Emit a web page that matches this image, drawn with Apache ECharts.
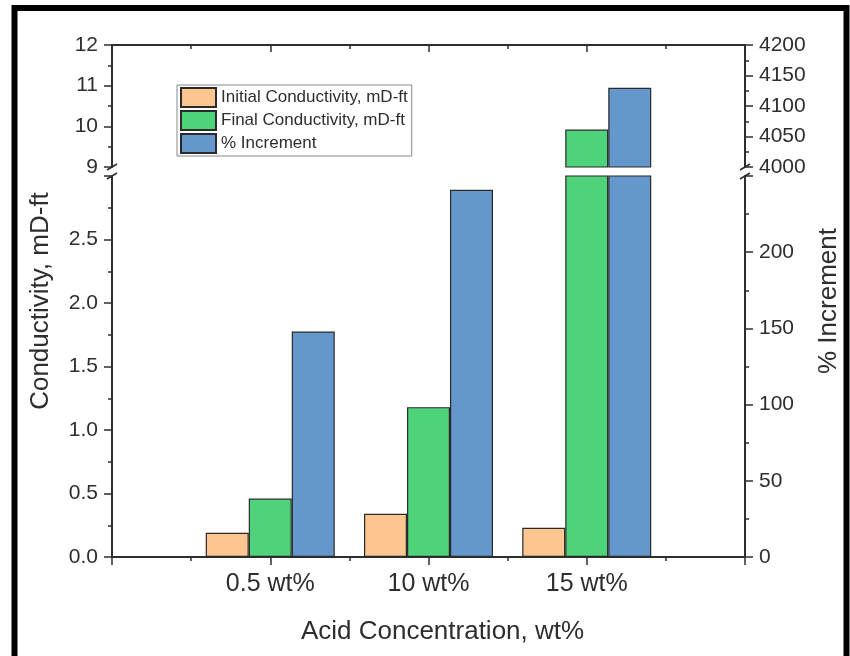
<!DOCTYPE html>
<html>
<head>
<meta charset="utf-8">
<script src="https://cdn.jsdelivr.net/npm/echarts@6/dist/echarts.min.js"></script>
<style>
  html, body { margin: 0; padding: 0; background: #fff; }
  #main { width: 850px; height: 656px; }
</style>
</head>
<body>
<div id="main"></div>
<script>
// values
const concentrations = ['0.5 wt%', '10 wt%', '15 wt%']
const initialCond = [0.19, 0.34, 0.23]
const finalCond = [0.46, 1.18, 9.92]
const increment = [148, 241, 4130]
const seriesNames = ['Initial Conductivity, mD-ft', 'Final Conductivity, mD-ft', '% Increment']
const colors = ['#FDC590', '#4ED37B', '#6498CD']

const font = 'Liberation Sans, Arial, sans-serif'
const ink = '#2e2e2e'

// categories sit at 1, 2, 3 on a 0..4 axis
function pairs (vals) {
  return vals.map(function (v, i) { return [i + 1, v] })
}

function plain (v) { return String(v) }

function xAx (grid, pos) {
  const top = pos === 'top'
  return {
    type: 'value', gridIndex: grid, position: pos, min: 0, max: 4, interval: 1,
    axisLine: { show: true, onZero: false, lineStyle: { color: ink, width: 2 } },
    axisTick: { show: true, inside: top, length: top ? 7 : 8, lineStyle: { color: ink, width: 1.5 } },
    minorTick: { show: true, splitNumber: 2, length: 4, lineStyle: { color: ink, width: 1.5 } },
    axisLabel: {
      show: !top, margin: 15, fontFamily: font, fontSize: 25, color: ink,
      formatter: function (v) { return concentrations[v - 1] || '' }
    },
    splitLine: { show: false }
  }
}

function yAx (grid, pos, min, max, step, fmt, hideMax) {
  return {
    type: 'value', gridIndex: grid, position: pos, min: min, max: max, interval: step,
    axisLine: { show: true, lineStyle: { color: ink, width: 2 } },
    axisTick: { show: true, length: 8, lineStyle: { color: ink, width: 1.5 } },
    minorTick: { show: true, splitNumber: 2, length: 4, lineStyle: { color: ink, width: 1.5 } },
    axisLabel: {
      margin: 14, fontFamily: font, fontSize: 21, color: ink,
      showMaxLabel: !hideMax, formatter: fmt
    },
    splitLine: { show: false }
  }
}

function nameAx (pos, name, gap) {
  return {
    type: 'value', gridIndex: 2, position: pos, min: 0, max: 1,
    axisLine: { show: false }, axisTick: { show: false }, axisLabel: { show: false },
    splitLine: { show: false },
    name: name, nameLocation: 'middle', nameRotate: 90, nameGap: gap,
    nameTextStyle: { fontFamily: font, fontSize: 26, color: ink }
  }
}

function bars (grid, k, vals, yIdx) {
  return {
    name: seriesNames[k], type: 'bar', xAxisIndex: grid, yAxisIndex: yIdx,
    data: pairs(vals), barWidth: 43, barGap: '0%', clip: true,
    itemStyle: { color: colors[k], borderColor: '#2a2a2a', borderWidth: 1.2 }
  }
}

const lowerX = xAx(0, 'bottom')
lowerX.name = 'Acid Concentration, wt%'
lowerX.nameLocation = 'middle'
lowerX.nameGap = 62
lowerX.nameTextStyle = { fontFamily: font, fontSize: 26, color: ink, padding: [0, 0, 0, 28] }

const option = {
  animation: false,
  backgroundColor: '#fff',
  grid: [
    { left: 112, right: 105, top: 176, height: 381 },
    { left: 112, right: 105, top: 45, height: 122 },
    { left: 112, right: 105, top: 45, height: 512 }
  ],
  legend: {
    data: seriesNames, orient: 'vertical', left: 177, top: 85,
    icon: 'rect', itemWidth: 35, itemHeight: 19, itemGap: 2,
    padding: [2, 4, 2, 3], borderColor: '#888', borderWidth: 1, backgroundColor: '#fff',
    textStyle: { fontFamily: font, fontSize: 17, color: ink, lineHeight: 19 }
  },
  xAxis: [
    lowerX,
    xAx(1, 'top'),
    { type: 'value', gridIndex: 2, show: false, min: 0, max: 4 }
  ],
  yAxis: [
    yAx(0, 'left', 0, 3, 0.5, function (v) { return v.toFixed(1) }, true),
    yAx(0, 'right', 0, 250, 50, plain, true),
    yAx(1, 'left', 9, 12, 1, plain, false),
    yAx(1, 'right', 4000, 4200, 50, plain, false),
    nameAx('left', 'Conductivity, mD-ft', 58),
    nameAx('right', '% Increment', 72)
  ],
  series: [
    bars(0, 0, initialCond, 0), bars(0, 1, finalCond, 0), bars(0, 2, increment, 1),
    bars(1, 0, initialCond, 2), bars(1, 1, finalCond, 2), bars(1, 2, increment, 3)
  ]
}

const chart = echarts.init(document.getElementById('main'))
chart.setOption(option)

// frame around the figure and the little break marks on both y axes
const xl = chart.convertToPixel({ xAxisIndex: 0 }, 0)
const xr = chart.convertToPixel({ xAxisIndex: 0 }, 4)
const yLo = chart.convertToPixel({ yAxisIndex: 0 }, 3)
const yHi = chart.convertToPixel({ yAxisIndex: 2 }, 9)
const marks = []
;[xl, xr].forEach(function (x) {
  [yLo, yHi].forEach(function (y) {
    marks.push({
      type: 'line', z: 10,
      shape: { x1: x - 5, y1: y + 3, x2: x + 5, y2: y - 3 },
      style: { stroke: ink, lineWidth: 1.5 }
    })
  })
})
marks.push({
  type: 'rect', z: 20,
  shape: { x: 14.5, y: 8, width: 832, height: 700 },
  style: { fill: 'none', stroke: '#000', lineWidth: 6 }
})
chart.setOption({ graphic: marks })
</script>
</body>
</html>
